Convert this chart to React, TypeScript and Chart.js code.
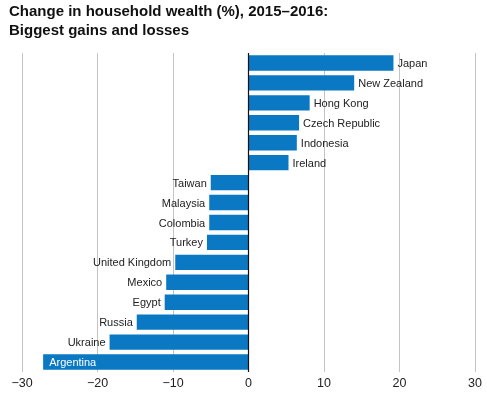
import React, { useEffect, useRef } from "react";
import { Chart, registerables } from "chart.js";

Chart.register(...registerables);

const titleLines = ["Change in household wealth (%), 2015\u20132016:", "Biggest gains and losses"];
const countries = [
  "Japan", "New Zealand", "Hong Kong", "Czech Republic", "Indonesia", "Ireland",
  "Taiwan", "Malaysia", "Colombia", "Turkey", "United Kingdom", "Mexico",
  "Egypt", "Russia", "Ukraine", "Argentina",
];
const changes = [19.2, 14.0, 8.1, 6.7, 6.4, 5.3, -5.0, -5.2, -5.2, -5.5, -9.7, -10.9, -11.1, -14.8, -18.4, -27.2];
const xTicks = [-30, -20, -10, 0, 10, 20, 30];

const BAR = "#0a78c2";
const FONT = "'Liberation Sans', Arial, Helvetica, sans-serif";

const titlePlugin = {
  id: "topTitle",
  afterDraw(chart: any) {
    const ctx = chart.ctx;
    ctx.save();
    ctx.font = `bold 15px ${FONT}`;
    ctx.fillStyle = "#111";
    ctx.textAlign = "left";
    ctx.textBaseline = "alphabetic";
    ctx.fillText(titleLines[0], 9, 16);
    ctx.fillText(titleLines[1], 9, 34.5);
    ctx.restore();
  },
};

const labelPlugin = {
  id: "barLabels",
  afterDatasetsDraw(chart: any) {
    const ctx = chart.ctx;
    const meta = chart.getDatasetMeta(0);
    const zeroX = chart.scales.x.getPixelForValue(0);
    ctx.save();
    ctx.font = `11px ${FONT}`;
    ctx.textBaseline = "middle";
    meta.data.forEach((bar: any, i: number) => {
      const v = changes[i];
      const text = countries[i];
      const w = ctx.measureText(text).width;
      if (v >= 0) {
        ctx.fillStyle = "#222";
        ctx.textAlign = "left";
        ctx.fillText(text, bar.x + 4, bar.y + 1);
      } else if (bar.x - 4 - w < chart.chartArea.left) {
        ctx.fillStyle = "#fff";
        ctx.textAlign = "left";
        ctx.fillText(text, bar.x + 6, bar.y + 1);
      } else {
        ctx.fillStyle = "#222";
        ctx.textAlign = "right";
        ctx.fillText(text, bar.x - 4, bar.y + 1);
      }
    });
    ctx.strokeStyle = "#111";
    ctx.lineWidth = 1.2;
    ctx.beginPath();
    ctx.moveTo(zeroX, chart.chartArea.top);
    ctx.lineTo(zeroX, chart.chartArea.bottom);
    ctx.stroke();
    ctx.restore();
  },
};

export default function App() {
  const ref = useRef<HTMLCanvasElement>(null);
  useEffect(() => {
    const chart = new Chart(ref.current!, {
      type: "bar",
      data: {
        labels: countries,
        datasets: [
          {
            data: changes,
            backgroundColor: BAR,
            borderWidth: 0,
            barPercentage: 0.77,
            categoryPercentage: 1,
          },
        ],
      },
      options: {
        indexAxis: "y",
        animation: false,
        responsive: false,
        layout: { padding: { left: 22, right: 12, top: 53, bottom: 0 } },
        plugins: {
          legend: { display: false },
          tooltip: { enabled: false },
          title: { display: false },
        },
        scales: {
          x: {
            min: -30,
            max: 30,
            afterBuildTicks: (scale: any) => {
              scale.ticks = xTicks.map((v) => ({ value: v }));
            },
            grid: {
              color: "#c4c4c4",
              lineWidth: 1,
              drawTicks: false,
            },
            border: { display: false },
            ticks: {
              padding: 4,
              color: "#222",
              font: { family: FONT, size: 12.5 },
              callback: (v: any) => (Number(v) < 0 ? "\u2212" + Math.abs(Number(v)) : String(v)),
            },
          },
          y: {
            display: false,
          },
        },
      },
      plugins: [labelPlugin, titlePlugin],
    });
    return () => chart.destroy();
  }, []);
  return (
    <div style={{ position: "absolute", left: 0, top: 0, width: 487, height: 395, background: "#fff" }}>
      <canvas ref={ref} width={487} height={395} style={{ width: 487, height: 395 }} />
    </div>
  );
}
